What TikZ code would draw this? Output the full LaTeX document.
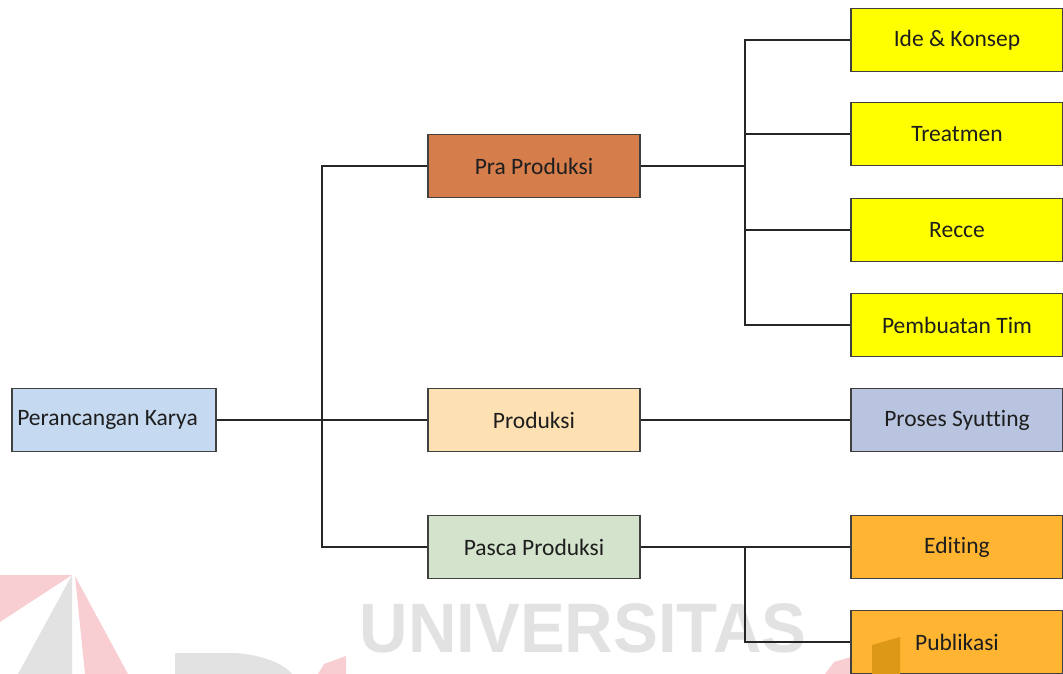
\documentclass[tikz,border=0pt]{standalone}
\usepackage{fontspec}
\setmainfont{Carlito}[Ligatures={NoCommon}]
\newfontfamily\wmfont{Liberation Sans}
\definecolor{borderc}{RGB}{64,64,64}
\definecolor{textc}{RGB}{30,30,30}
\definecolor{cblue}{RGB}{197,217,241}
\definecolor{cpra}{RGB}{214,125,76}
\definecolor{cprod}{RGB}{254,225,178}
\definecolor{cpasca}{RGB}{212,227,204}
\definecolor{cyel}{RGB}{255,255,0}
\definecolor{csyut}{RGB}{185,197,224}
\definecolor{corange}{RGB}{255,180,50}
\definecolor{wmgray}{RGB}{226,226,226}
\definecolor{wmpink}{RGB}{248,206,210}
\definecolor{wmdark}{RGB}{222,152,24}
\tikzset{
  box/.style={draw=borderc, line width=1.3pt, minimum width=212pt, minimum height=63pt,
    inner sep=0pt, text=textc, font=\fontsize{23.5}{26}\selectfont},
  link/.style={draw=black!85, line width=1.2pt},
}
\begin{document}
\begin{tikzpicture}[x=1pt,y=-1pt]
\useasboundingbox (0,0) rectangle (1063,674);
\clip (0,0) rectangle (1063,674);
% watermark
\fill[wmpink] (0,575) -- (72,575) -- (0,622) -- cycle;
\fill[wmgray] (72,575) -- (72,674) -- (18,674) -- cycle;
\fill[wmpink] (75,576) -- (128,674) -- (85,674) -- cycle;
\fill[wmgray] (175,653) -- (235,653) .. controls (265,655) and (285,665) .. (292,674) -- (175,674) -- cycle;
\fill[wmpink] (318,674) -- (324,664) -- (346,656) -- (346,674) -- cycle;
\fill[wmpink] (825,674) -- (834,662) -- (851,657) -- (851,674) -- cycle;
\node[text=wmgray, font=\wmfont\bfseries\fontsize{70}{70}\selectfont, xscale=0.96, inner sep=0pt, anchor=base] (wm) at (583,652) {UNIVERSITAS};
% nodes
\node[box, fill=cblue, minimum width=204pt] (pk) at (114,420) {\hspace*{-13pt}Perancangan Karya};
\node[box, fill=cpra] (pra) at (534,166) {Pra Produksi};
\node[box, fill=cprod] (prod) at (534,420) {Produksi};
\node[box, fill=cpasca] (pasca) at (534,547) {Pasca Produksi};
\node[box, fill=cyel] (ide) at (957,40) {Ide \& Konsep};
\node[box, fill=cyel] (tr) at (957,134) {Treatmen};
\node[box, fill=cyel] (rc) at (957,230) {Recce};
\node[box, fill=cyel] (pt) at (957,325) {Pembuatan Tim};
\node[box, fill=csyut] (ps) at (957,420) {Proses Syutting};
\node[box, fill=corange] (ed) at (957,547) {Editing};
\node[box, fill=corange] (pub) at (957,642) {Publikasi};
\fill[wmdark] (872,645) -- (900,637) -- (900,674) -- (872,674) -- cycle;
% connectors
\coordinate (b1) at (322,420);
\coordinate (b2) at (745,166);
\coordinate (b3) at (745,547);
\draw[link] (pk.east) -- (prod.west);
\draw[link] (pra.west) -| (b1) |- (pasca.west);
\draw[link] (pra.east) -- (b2);
\draw[link] (ide.west) -| (b2) |- (pt.west);
\draw[link] (b2 |- tr.west) -- (tr.west);
\draw[link] (b2 |- rc.west) -- (rc.west);
\draw[link] (prod.east) -- (ps.west);
\draw[link] (pasca.east) -- (ed.west);
\draw[link] (b3) |- (pub.west);
\end{tikzpicture}
\end{document}
